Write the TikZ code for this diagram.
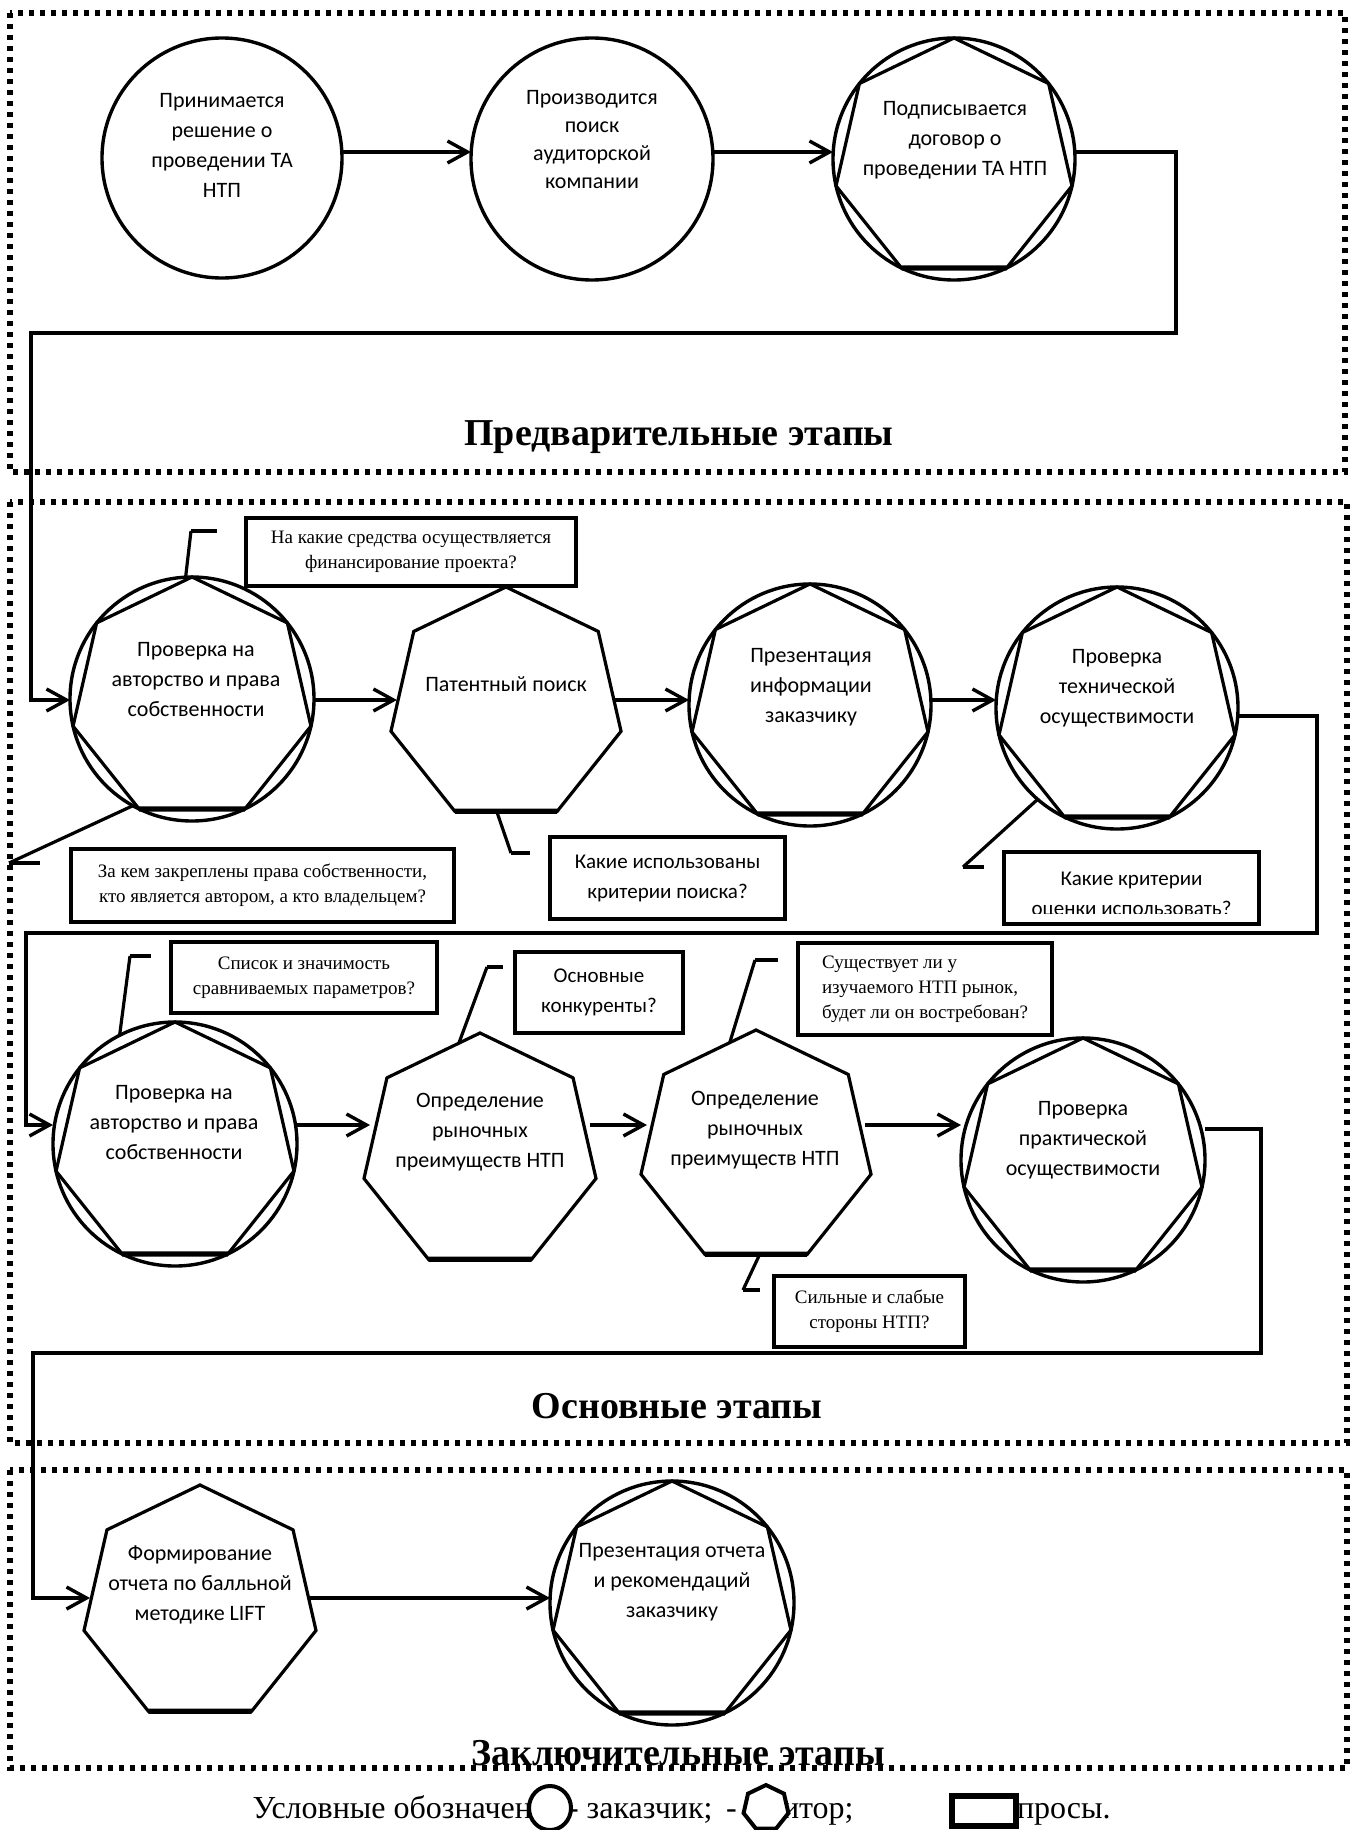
\documentclass[tikz,border=0pt]{standalone}
\usepackage{fontspec}
\setmainfont{Liberation Serif}
\newfontfamily\carl{Carlito}
\usetikzlibrary{shapes.geometric,arrows.meta,calc}
\begin{document}
\begin{tikzpicture}[x=0.5pt,y=-0.5pt,
  every node/.style={inner sep=0pt,outer sep=0pt},
  arr/.style={line width=1.7pt,-{Straight Barb[length=10pt,width=11pt,line width=1.7pt]}},
  conn/.style={line width=1.7pt},
  sect/.style={line width=2.6pt,dash pattern=on 2.4pt off 3.1pt},
  cust/.style={circle,draw,line width=1.7pt,minimum size=#1},
  hept/.style={regular polygon,regular polygon sides=7,draw,line width=1.6pt,minimum size=#1},
  stxt/.style={font=\carl\fontsize{11}{15}\selectfont,align=center},
  qbox/.style={draw,line width=2pt,rectangle},
  qtxt/.style={font=\fontsize{9.5}{12.5}\selectfont,align=center},
  qctxt/.style={font=\carl\fontsize{10.5}{15}\selectfont,align=center},
  ttl/.style={font=\bfseries\fontsize{19}{22}\selectfont},
  leg/.style={font=\fontsize{16}{19}\selectfont},
  thin callout/.style={line width=1.6pt},
  accent/.style={line width=2.4pt},
  bottomedge/.style={line width=2.6pt}
]
\useasboundingbox (0,0) rectangle (1357,1830);

% section frames
\draw[sect] (10,13) rectangle (1345,472);
\draw[sect] (10,502) rectangle (1347,1443);
\draw[sect] (10,1470) rectangle (1347,1768);

% arrow rows
\coordinate (r0) at (0,152);
\coordinate (r1) at (0,700);
\coordinate (r2) at (0,1125);
\coordinate (r3) at (0,1598);

% ---------- section 1
\node[cust=120pt] (c1) at (222,158) {};
\node[cust=121pt] (c2) at (592,159) {};
\node[cust=121pt] (c3) at (954,159) {};
\node[hept=121pt] (c3h) at (954,159) {};
\draw[bottomedge] (c3h.corner 4) -- (c3h.corner 5);
\node[stxt] (c1t) at (222,145) {Принимается\\решение о\\проведении ТА\\НТП};
\node[stxt,font=\carl\fontsize{11}{14}\selectfont] (c2t) at (592,140) {Производится\\поиск\\аудиторской\\компании};
\node[stxt] (c3t) at (955,140) {Подписывается\\договор о\\проведении ТА НТП};
\draw[arr] (c1.east |- r0) -- (c2.west |- r0);
\draw[arr] (c2.east |- r0) -- (c3.west |- r0);

\node[ttl] (t1) at (679,437) {Предварительные этапы};

% ---------- section 2, row 1
\node[cust=122pt] (A) at (192,699) {};
\node[hept=122pt] (Ah) at (192,699) {};
\node[hept=118pt] (B) at (506,705) {};
\node[cust=121pt] (C) at (810,705) {};
\node[hept=121pt] (Ch) at (810,705) {};
\node[cust=121pt] (D) at (1117,708) {};
\node[hept=121pt] (Dh) at (1117,708) {};
\foreach \h in {Ah,B,Ch,Dh}{\draw[bottomedge] (\h.corner 4) -- (\h.corner 5);}

\node[stxt] (At) at (196,680) {Проверка на\\авторство и права\\собственности};
\node[stxt] (Bt) at (506,684) {Патентный поиск};
\node[stxt] (Ct) at (811,687) {Презентация\\информации\\заказчику};
\node[stxt] (Dt) at (1117,688) {Проверка\\технической\\осуществимости};

\coordinate (k1) at (1176,333);
\coordinate (k2) at (31,333);
\draw[arr] (c3.east |- r0) -| (k1) -- (k2) |- (A.west |- r1);
\draw[arr] (A.east |- r1) -- (B.west |- r1);
\draw[arr] (B.east |- r1) -- (C.west |- r1);
\draw[arr] (C.east |- r1) -- (D.west |- r1);

% questions row 1
\node[qbox,qtxt,minimum width=165pt,minimum height=34pt] (q1) at (411,552) {На какие средства осуществляется\\финансирование проекта?};
\node[qbox,qtxt,minimum width=191.5pt,minimum height=36.5pt] (q2) at (262.5,885.5) {За кем закреплены права собственности,\\кто является автором, а кто владельцем?};
\node[qbox,qctxt,minimum width=117.5pt,minimum height=41pt] (q3) at (667.5,878) {Какие использованы\\критерии поиска?};
\node[qbox,minimum width=127.5pt,minimum height=36pt] (q4) at (1131.5,888) {};
\begin{scope}
\clip (1007,855) rectangle (1256,913);
\node[qctxt] (q4t) at (1131.5,895) {Какие критерии\\оценки использовать?};
\end{scope}

\coordinate (p1b) at (191,531); \coordinate (p1c) at (217,531);
\draw[thin callout] (A.93) -- (p1b); \draw[accent] (p1b) -- (p1c);
\coordinate (p2b) at (9,863); \coordinate (p2c) at (40,863);
\draw[thin callout] (A.241) -- (p2b); \draw[accent] (p2b) -- (p2c);
\coordinate (p3b) at (511,853); \coordinate (p3c) at (530,853);
\draw[thin callout] (B.265) -- (p3b); \draw[accent] (p3b) -- (p3c);
\coordinate (p4b) at (963,867); \coordinate (p4c) at (984,867);
\draw[thin callout] (D.229) -- (p4b); \draw[accent] (p4b) -- (p4c);

% ---------- section 2, row 2
\node[cust=122pt] (E) at (175,1144) {};
\node[hept=122pt] (Eh) at (175,1144) {};
\node[hept=119pt] (F) at (480,1152) {};
\node[hept=118pt] (G) at (756,1148) {};
\node[cust=122pt] (H) at (1083,1160) {};
\node[hept=122pt] (Hh) at (1083,1160) {};
\foreach \h in {Eh,F,G,Hh}{\draw[bottomedge] (\h.corner 4) -- (\h.corner 5);}

\node[stxt] (Et) at (174,1123) {Проверка на\\авторство и права\\собственности};
\node[stxt] (Ft) at (480,1132) {Определение\\рыночных\\преимуществ НТП};
\node[stxt] (Gt) at (755,1130) {Определение\\рыночных\\преимуществ НТП};
\node[stxt] (Ht) at (1083,1140) {Проверка\\практической\\осуществимости};

\coordinate (k3) at (1317,933);
\coordinate (k4) at (26,933);
\draw[arr] (D.east |- 0,716) -| (k3) -- (k4) |- (E.west |- r2);
\draw[arr] (E.east |- r2) -- (F.west |- r2);
\draw[arr] (F.east |- r2) -- (G.west |- r2);
\draw[arr] (G.east |- r2) -- (H.west |- r2);

% questions row 2
\node[qbox,qtxt,minimum width=133pt,minimum height=35.5pt] (q5) at (304,977.5) {Список и значимость\\сравниваемых параметров?};
\node[qbox,qctxt,minimum width=84pt,minimum height=40.5pt] (q6) at (599,992.5) {Основные\\конкуренты?};
\node[qbox,qtxt,align=left,minimum width=127pt,minimum height=46pt] (q7) at (925,989) {Существует ли у\\изучаемого НТП рынок,\\будет ли он востребован?};
\node[qbox,qtxt,minimum width=95.5pt,minimum height=35.5pt] (q8) at (869.5,1311.5) {Сильные и слабые\\стороны НТП?};

\coordinate (p5b) at (130,956); \coordinate (p5c) at (151,956);
\draw[thin callout] (E.117) -- (p5b); \draw[accent] (p5b) -- (p5c);
\coordinate (p6b) at (487,967); \coordinate (p6c) at (503,967);
\draw[thin callout] (F.101) -- (p6b); \draw[accent] (p6b) -- (p6c);
\coordinate (p7b) at (755,960); \coordinate (p7c) at (778,960);
\draw[thin callout] (G.104) -- (p7b); \draw[accent] (p7b) -- (p7c);
\coordinate (p8b) at (743,1290); \coordinate (p8c) at (760,1290);
\draw[thin callout] (G.272) -- (p8b); \draw[accent] (p8b) -- (p8c);

\node[ttl] (t2) at (677,1406) {Основные этапы};

% ---------- section 3
\node[hept=119pt] (I) at (200,1604) {};
\node[cust=122pt] (J) at (672,1603) {};
\node[hept=122pt] (Jh) at (672,1603) {};
\foreach \h in {I,Jh}{\draw[bottomedge] (\h.corner 4) -- (\h.corner 5);}
\node[stxt] (It) at (200,1585) {Формирование\\отчета по балльной\\методике LIFT};
\node[stxt] (Jt) at (672,1582) {Презентация отчета\\и рекомендаций\\заказчику};

\coordinate (k5) at (1261,1353);
\coordinate (k6) at (33,1353);
\draw[arr] (H.east |- 0,1129) -| (k5) -- (k6) |- (I.west |- r3);
\draw[arr] (I.east |- r3) -- (J.west |- r3);

\node[ttl] (t3) at (678,1753) {Заключительные этапы};

% ---------- legend
\node[leg,anchor=base east] (lg1) at (532,1818) {Условные обозначен};
\node[leg,anchor=base west] (lg2) at (568,1818) {- заказчик;};
\node[leg,anchor=base west] (lg3) at (726,1818) {-};
\node[leg,anchor=base west] (lg4) at (782,1818) {итор;};
\node[leg,anchor=base west] (lg5) at (1017,1818) {просы.};
\node[draw,ellipse,line width=2pt,fill=white,minimum width=21pt,minimum height=22pt] (lgc) at (550,1808) {};
\node[regular polygon,regular polygon sides=7,draw,line width=2pt,fill=white,minimum size=23pt] (lgh) at (766,1808) {};
\node[draw,rectangle,line width=3pt,fill=white,minimum width=32pt,minimum height=15pt] (lgr) at (984,1811) {};
\end{tikzpicture}
\end{document}
